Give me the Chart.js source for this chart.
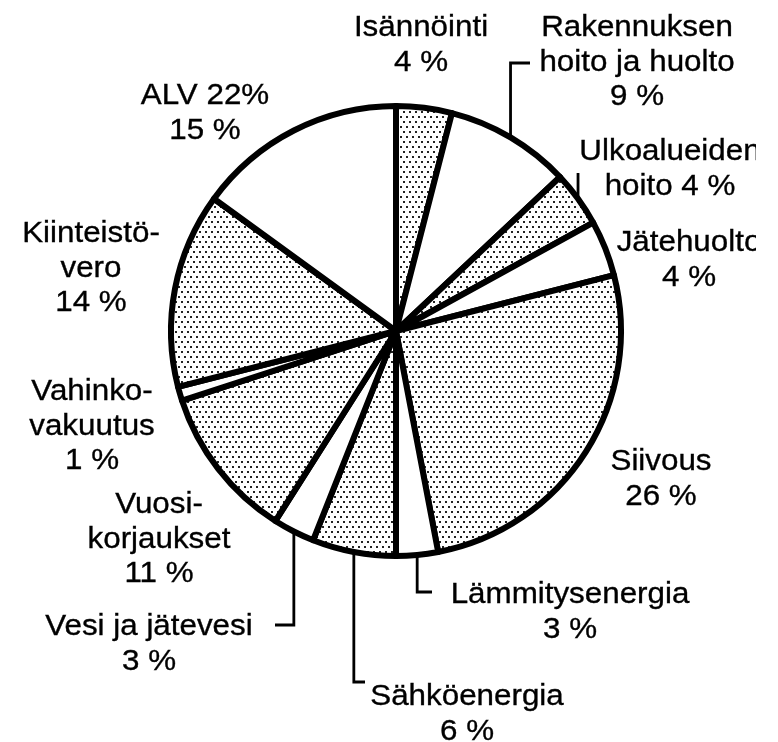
<!DOCTYPE html>
<html>
<head>
<meta charset="utf-8">
<script src="https://cdn.jsdelivr.net/npm/chart.js@4"></script>
<style>
  body { margin: 0; background: #fff; }
  #costChart { display: block; }
</style>
</head>
<body>
<canvas id="costChart" width="778" height="742"></canvas>
<script>
// Data
const categories = ['Isännöinti', 'Rakennuksen hoito ja huolto', 'Ulkoalueiden hoito', 'Jätehuolto',
  'Siivous', 'Lämmitysenergia', 'Sähköenergia', 'Vesi ja jätevesi', 'Vuosikorjaukset',
  'Vahinkovakuutus', 'Kiinteistövero', 'ALV 22%'];
const shares = [4, 9, 4, 4, 26, 3, 6, 3, 11, 1, 14, 15];
// label text lines, {v} is replaced by the share
const labelLines = [
  ['Isännöinti', '{v} %'],
  ['Rakennuksen', 'hoito ja huolto', '{v} %'],
  ['Ulkoalueiden', 'hoito {v} %'],
  ['Jätehuolto', '{v} %'],
  ['Siivous', '{v} %'],
  ['Lämmitysenergia', '{v} %'],
  ['Sähköenergia', '{v} %'],
  ['Vesi ja jätevesi', '{v} %'],
  ['Vuosi-', 'korjaukset', '{v} %'],
  ['Vahinko-', 'vakuutus', '{v} %'],
  ['Kiinteistö-', 'vero', '{v} %'],
  ['ALV 22%', '{v} %']
];

// Layout of the labels (center x, first baseline) and leader lines
const labelPos = [
  [421, 36], [637, 36], [670, 160], [689, 251], [661, 470], [570, 603],
  [467, 705], [149, 635], [159, 513], [92, 400], [91, 242], [205, 104]
];
const leaders = {
  1: { toY: 63, toX: 530 },
  2: { toY: 173, toX: null },
  5: { toY: 592, toX: 432 },
  6: { toY: 682, toX: 365 },
  7: { toY: 625, toX: 275 }
};
const lineGap = 34.7;

// dotted fill
function dotPattern() {
  const c = document.createElement('canvas');
  c.width = 6;
  c.height = 10;
  const g = c.getContext('2d');
  g.fillStyle = '#fff';
  g.fillRect(0, 0, 6, 10);
  g.fillStyle = '#222';
  g.fillRect(1, 1, 2, 2);
  g.fillRect(4, 6, 2, 2);
  return g.createPattern(c, 'repeat');
}
const dots = dotPattern();
const fills = shares.map((v, i) => (i % 2 === 0 ? dots : '#ffffff'));

const labelPlugin = {
  id: 'pieLabels',
  afterDraw(chart) {
    const ctx = chart.ctx;
    const arcs = chart.getDatasetMeta(0).data;
    ctx.save();
    ctx.strokeStyle = '#000';
    ctx.lineWidth = 2.8;
    ctx.lineCap = 'butt';
    arcs.forEach((arc, i) => {
      const ld = leaders[i];
      if (!ld) return;
      const p = arc.getProps(['x', 'y', 'startAngle', 'endAngle', 'outerRadius'], true);
      const mid = (p.startAngle + p.endAngle) / 2;
      const sx = p.x + Math.cos(mid) * p.outerRadius;
      const sy = p.y + Math.sin(mid) * p.outerRadius;
      ctx.beginPath();
      ctx.moveTo(sx, sy);
      ctx.lineTo(sx, ld.toY);
      if (ld.toX !== null) ctx.lineTo(ld.toX, ld.toY);
      ctx.stroke();
    });

    // text is cut at the right edge like in the original
    ctx.beginPath();
    ctx.rect(0, 0, 756, 742);
    ctx.clip();
    ctx.fillStyle = '#000';
    ctx.lineWidth = 0.35;
    ctx.font = '30px "Liberation Sans", Arial, sans-serif';
    ctx.textAlign = 'center';
    ctx.textBaseline = 'alphabetic';
    labelLines.forEach((lines, i) => {
      const [cx, y0] = labelPos[i];
      lines.forEach((t, k) => {
        const txt = t.replace('{v}', shares[i]);
        ctx.save();
        ctx.translate(cx, y0 + k * lineGap);
        ctx.scale(1.045, 1);
        ctx.fillText(txt, 0, 0);
        ctx.strokeText(txt, 0, 0);
        ctx.restore();
      });
    });
    ctx.restore();
  }
};

new Chart(document.getElementById('costChart'), {
  type: 'pie',
  data: {
    labels: categories,
    datasets: [{
      data: shares,
      backgroundColor: fills,
      borderColor: '#000',
      borderWidth: 6,
      borderJoinStyle: 'round'
    }]
  },
  options: {
    responsive: false,
    animation: false,
    radius: 225,
    layout: { padding: { left: 14, right: 0, top: 0, bottom: 80 } },
    plugins: {
      legend: { display: false },
      tooltip: { enabled: false }
    }
  },
  plugins: [labelPlugin]
});
</script>
</body>
</html>
